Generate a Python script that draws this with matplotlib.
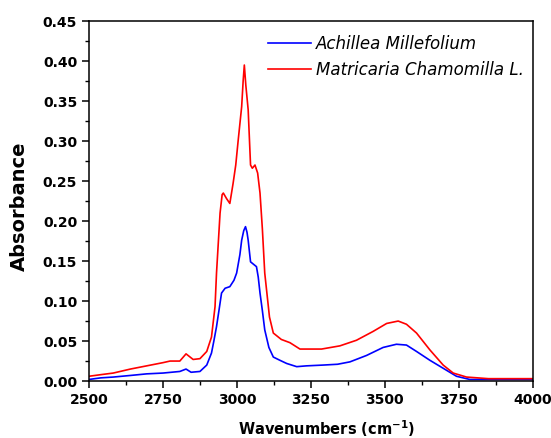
import matplotlib
matplotlib.use("Agg")
import matplotlib.pyplot as plt
from matplotlib.ticker import MultipleLocator

plt.rcParams['font.family'] = ['DejaVu Sans']

# Achillea Millefolium (blue)
wn_a = [2500, 2540, 2582, 2640, 2695, 2750, 2807, 2828, 2845, 2875, 2898, 2914, 2922,
        2931, 2940, 2948, 2960, 2976, 2990, 2999, 3010, 3016, 3023, 3029, 3034, 3038,
        3046, 3056, 3066, 3072, 3078, 3086, 3094, 3108, 3123, 3145, 3168, 3202, 3235,
        3292, 3340, 3382, 3438, 3494, 3539, 3573, 3607, 3652, 3697, 3742, 3787, 3850,
        3920, 4000]
abs_a = [0.002, 0.004, 0.005, 0.007, 0.009, 0.010, 0.012, 0.015, 0.011, 0.012, 0.020,
         0.035, 0.050, 0.068, 0.090, 0.110, 0.116, 0.118, 0.126, 0.135, 0.158, 0.176,
         0.188, 0.193, 0.186, 0.176, 0.149, 0.146, 0.143, 0.130, 0.110, 0.088, 0.064,
         0.042, 0.030, 0.026, 0.022, 0.018, 0.019, 0.020, 0.021, 0.024, 0.032, 0.042,
         0.046, 0.045, 0.037, 0.026, 0.016, 0.006, 0.002, 0.002, 0.002, 0.002]

# Matricaria Chamomilla L. (red)
wn_m = [2500, 2540, 2582, 2640, 2695, 2750, 2774, 2807, 2828, 2852, 2875, 2898, 2914,
        2926, 2931, 2943, 2950, 2954, 2965, 2976, 2987, 2996, 3004, 3016, 3021, 3025,
        3030, 3038, 3046, 3052, 3061, 3070, 3078, 3086, 3094, 3110, 3123, 3150, 3179,
        3213, 3286, 3348, 3404, 3460, 3506, 3545, 3573, 3607, 3652, 3697, 3731, 3776,
        3850, 3920, 4000]
abs_m = [0.006, 0.008, 0.010, 0.015, 0.019, 0.023, 0.025, 0.025, 0.034, 0.027, 0.028,
         0.037, 0.055, 0.093, 0.135, 0.210, 0.233, 0.235, 0.228, 0.222, 0.247, 0.270,
         0.300, 0.343, 0.375, 0.395, 0.370, 0.339, 0.270, 0.266, 0.270, 0.260, 0.235,
         0.190, 0.135, 0.080, 0.060, 0.052, 0.048, 0.040, 0.040, 0.044, 0.051, 0.062,
         0.072, 0.075, 0.071, 0.060, 0.039, 0.020, 0.010, 0.005, 0.003, 0.003, 0.003]

fig = plt.figure(figsize=(5.51, 4.38), dpi=100)
ax = fig.add_axes([0.1615, 0.130, 0.8055, 0.822])

ax.plot(wn_a, abs_a, color='#0000ff', lw=1.2, label='Achillea Millefolium')
ax.plot(wn_m, abs_m, color='#ff0000', lw=1.2, label='Matricaria Chamomilla L.')

ax.set_xlim(2500, 4000)
ax.set_ylim(0, 0.45)
ax.xaxis.set_major_locator(MultipleLocator(250))
ax.xaxis.set_minor_locator(MultipleLocator(125))
ax.yaxis.set_major_locator(MultipleLocator(0.05))
ax.yaxis.set_minor_locator(MultipleLocator(0.025))
ax.yaxis.set_major_formatter(matplotlib.ticker.FormatStrFormatter('%.2f'))
ax.tick_params(which='major', direction='out', length=5, width=1.1, labelsize=10)
ax.tick_params(which='minor', direction='out', length=3, width=1.0)
for lab in ax.get_xticklabels() + ax.get_yticklabels():
    lab.set_fontweight('bold')
for s in ax.spines.values():
    s.set_linewidth(1.1)

ax.set_xlabel('Wavenumbers (cm$^{\\mathbf{-1}}$)', fontsize=10.5, fontweight='bold')
ax.xaxis.set_label_coords(0.536, -0.103)
ax.set_ylabel('Absorbance', fontsize=14, fontweight='bold')
ax.yaxis.set_label_coords(-0.135, 0.485)

leg = ax.legend(loc='upper left', frameon=False, fontsize=12, handlelength=2.6,
                handletextpad=0.3, labelspacing=0.5, borderpad=0, borderaxespad=0,
                bbox_to_anchor=(0.403, 0.962))
for t in leg.get_texts():
    t.set_fontstyle('italic')

fig.savefig('out.png', dpi=100)
